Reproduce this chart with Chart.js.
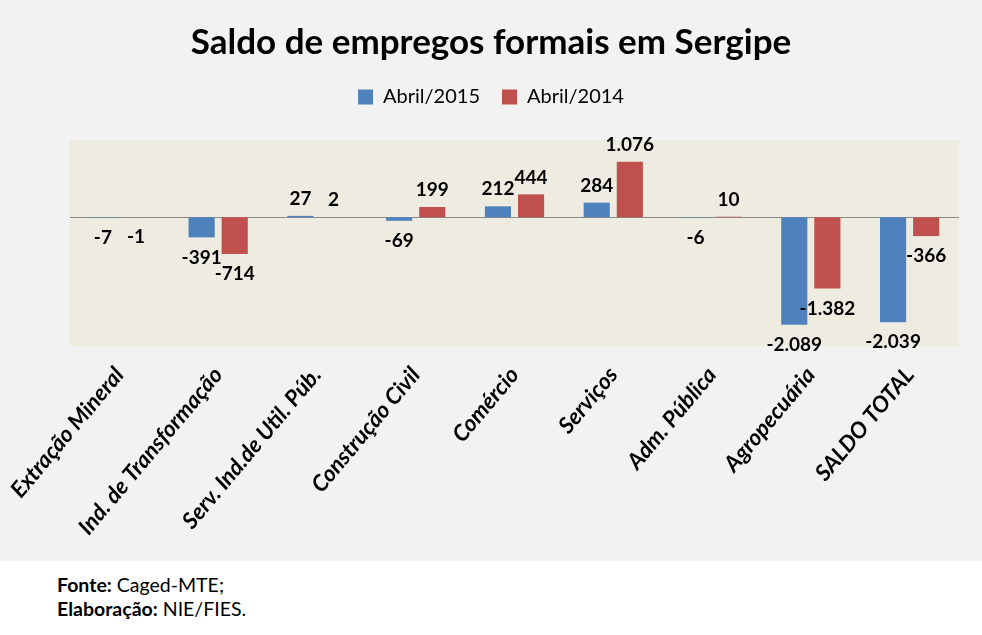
<!DOCTYPE html>
<html>
<head>
<meta charset="utf-8">
<script src="https://cdn.jsdelivr.net/npm/chart.js@4"></script>
<style>
  html, body { margin: 0; padding: 0; background: #ffffff; }
  #wrap { position: relative; width: 982px; height: 561px; background: #f2f2f2; }
  #footer { position: absolute; left: 57px; top: 573px; font-family: Lato, sans-serif; font-size: 19.5px; line-height: 24px; color: #000; }
  #footer b { font-weight: bold; }
</style>
</head>
<body>
<div id="wrap"><canvas id="c" width="982" height="561"></canvas></div>
<div id="footer"><b>Fonte:</b> Caged-MTE;<br><b>Elaboração:</b> NIE/FIES.</div>
<script>
const categories = ["Extração Mineral", "Ind. de Transformação", "Serv. Ind.de Util. Púb.", "Construção Civil", "Comércio", "Serviços", "Adm. Pública", "Agropecuária", "SALDO TOTAL"];
const abril2015 = [-7, -391, 27, -69, 212, 284, -6, -2089, -2039];
const abril2014 = [-1, -714, 2, 199, 444, 1076, 10, -1382, -366];
const seriesNames = ["Abril/2015", "Abril/2014"];

function fmt(v) {
  const s = Math.abs(v).toString().replace(/\B(?=(\d{3})+(?!\d))/g, ".");
  return (v < 0 ? "-" : "") + s;
}

const bgPlugin = {
  id: 'bg',
  beforeLayout(chart) {
    if (chart.legend && !chart.legend._patched) {
      const origFit = chart.legend.fit;
      chart.legend.fit = function () {
        origFit.call(this);
        this.height = 75;
      };
      chart.legend._patched = true;
    }
  },
  beforeDatasetsDraw(chart) {
    const { ctx, chartArea: a, scales } = chart;
    ctx.save();
    ctx.fillStyle = '#eeece1';
    ctx.fillRect(a.left, a.top, a.right - a.left, a.bottom - a.top);
    const y0 = Math.round(scales.y.getPixelForValue(0)) + 0.5;
    ctx.strokeStyle = '#8a8a8a';
    ctx.lineWidth = 1;
    ctx.beginPath();
    ctx.moveTo(a.left, y0);
    ctx.lineTo(a.right, y0);
    ctx.stroke();
    ctx.restore();
  },
  afterDatasetsDraw(chart) {
    const { ctx } = chart;
    ctx.save();
    ctx.font = 'bold 19px Lato, sans-serif';
    ctx.fillStyle = '#000';
    ctx.textAlign = 'center';
    ctx.textBaseline = 'middle';
    chart.data.datasets.forEach((ds, i) => {
      const meta = chart.getDatasetMeta(i);
      meta.data.forEach((el, j) => {
        const v = ds.data[j];
        const y = v >= 0 ? el.y - 17 : el.y + 20;
        ctx.fillText(fmt(v), el.x, y);
      });
    });
    ctx.restore();
  }
};

new Chart(document.getElementById('c'), {
  type: 'bar',
  data: {
    labels: categories,
    datasets: [
      { label: seriesNames[0], data: abril2015, backgroundColor: '#4f81bd', categoryPercentage: 0.67, barPercentage: 0.79 },
      { label: seriesNames[1], data: abril2014, backgroundColor: '#c0504d', categoryPercentage: 0.67, barPercentage: 0.79 }
    ]
  },
  options: {
    responsive: false,
    animation: false,
    layout: { padding: 0 },
    plugins: {
      title: {
        display: true,
        text: 'Saldo de empregos formais em Sergipe',
        color: '#000',
        font: { family: 'Lato, sans-serif', size: 35, weight: 'bold' },
        padding: { top: 22, bottom: 1 }
      },
      legend: {
        display: true,
        position: 'top',
        labels: {
          color: '#000',
          font: { family: 'Lato, sans-serif', size: 20 },
          boxWidth: 15,
          boxHeight: 15,
          padding: 22
        }
      },
      tooltip: { enabled: false }
    },
    scales: {
      x: {
        grid: { display: false, drawTicks: false },
        border: { display: false },
        ticks: {
          color: '#000',
          font: { family: 'Lato, sans-serif', size: 22.5, weight: 'bold', style: 'italic' },
          minRotation: 50,
          maxRotation: 50,
          autoSkip: false,
          padding: 16
        },
        afterFit(scale) {
          scale.height = 215;
          scale.paddingLeft = 0;
          scale.paddingRight = 0;
        }
      },
      y: {
        display: true,
        position: 'left',
        min: -2500,
        max: 1500,
        grid: { display: false, drawTicks: false },
        border: { display: false },
        ticks: { display: false },
        afterFit(scale) { scale.width = 70; }
      },
      yr: {
        display: true,
        position: 'right',
        grid: { display: false, drawTicks: false },
        border: { display: false },
        ticks: { display: false },
        afterFit(scale) { scale.width = 23; }
      }
    }
  },
  plugins: [bgPlugin]
});
</script>
</body>
</html>
